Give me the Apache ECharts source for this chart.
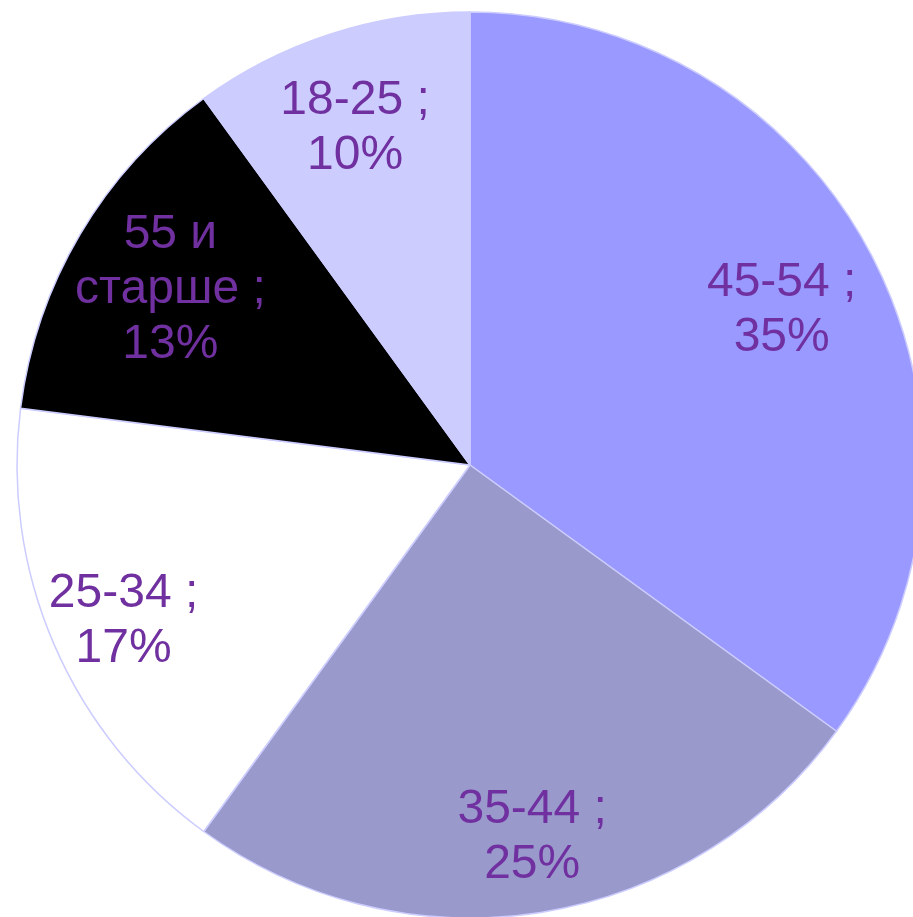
<!DOCTYPE html>
<html><head><meta charset="utf-8">
<script src="https://cdn.jsdelivr.net/npm/echarts@6/dist/echarts.min.js"></script>
<style>html,body{margin:0;padding:0;background:#fff}#c{width:913px;height:917px}</style>
</head><body><div id="c"></div>
<script>
const categories = ['45-54', '35-44', '25-34', '55 и старше', '18-25'];
const values = [35, 25, 17, 13, 10];
const colors = ['#9999ff', '#9999cc', '#ffffff', '#000000', '#ccccff'];
const labelLines = ['45-54 ;', '35-44 ;', '25-34 ;', '55 и\nстарше ;', '18-25 ;'];

const chart = echarts.init(document.getElementById('c'), null, {renderer: 'canvas'});
// small per-label horizontal nudges (Excel-style best-fit placement), applied as text padding
const nudgeX = [-14, 5, -11, 15, -2];
const pad = dx => [0, Math.max(0, -2 * dx), 0, Math.max(0, 2 * dx)];
const data = categories.map((c, i) => ({name: c, value: values[i], itemStyle: {color: colors[i]}}));
const labelData = categories.map((c, i) => ({name: c, value: values[i], label: {padding: pad(nudgeX[i])}}));
chart.setOption({
  animation: false,
  series: [
    {
      type: 'pie', center: [470, 465], radius: [0, 453], startAngle: 90, clockwise: true,
      silent: true, avoidLabelOverlap: false,
      itemStyle: {borderColor: '#ccccff', borderWidth: 1.5},
      label: {show: false}, labelLine: {show: false},
      data: data
    },
    {
      type: 'pie', center: [470, 476], radius: [272, 453], startAngle: 90, clockwise: true,
      silent: true, avoidLabelOverlap: false,
      itemStyle: {color: 'rgba(0,0,0,0)', borderWidth: 0},
      label: {
        show: true, position: 'inside',
        fontFamily: 'Liberation Sans, Arial, sans-serif', fontSize: 48, lineHeight: 55,
        color: '#7030a0', align: 'center',
        formatter: p => labelLines[p.dataIndex] + '\n' + values[p.dataIndex] + '%'
      },
      labelLine: {show: false},
      data: labelData
    }
  ]
});
</script></body></html>
